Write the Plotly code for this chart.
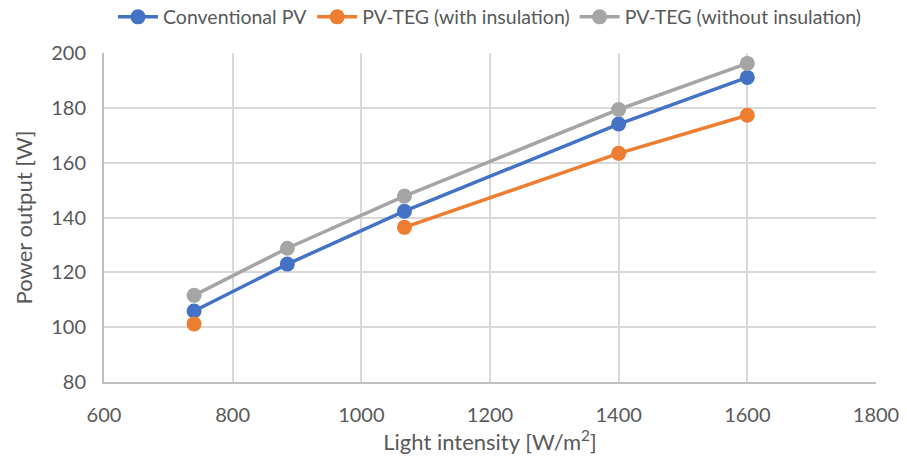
import plotly.graph_objects as go

# Light intensity levels [W/m^2]
intensity = [740, 885, 1067, 1400, 1600]

# Power output [W] for each configuration
conventional_pv = [105.9, 123.0, 142.3, 174.1, 191.1]
pvteg_insulated = [101.2, None, 136.4, 163.4, 177.3]
pvteg_uninsulated = [111.6, 128.8, 147.8, 179.4, 196.2]

series = [
    ("Conventional PV", conventional_pv, "#4472C4"),
    ("PV-TEG (with insulation)", pvteg_insulated, "#ED7D31"),
    ("PV-TEG (without insulation)", pvteg_uninsulated, "#A5A5A5"),
]

font_family = "Lato, Open Sans, sans-serif"
text_color = "#595959"

fig = go.Figure()
for name, values, color in series:
    fig.add_trace(go.Scatter(
        x=intensity, y=values, name=name, mode="lines+markers",
        line=dict(color=color, width=3.5),
        marker=dict(color=color, size=15),
        connectgaps=False,
    ))

fig.update_layout(
    width=907, height=464,
    margin=dict(l=104, r=31, t=53, b=82, autoexpand=False),
    paper_bgcolor="white", plot_bgcolor="white",
    font=dict(family=font_family, color=text_color, size=20),
    legend=dict(orientation="h", x=0.5, xanchor="center",
                yref="container", y=0.963, yanchor="middle",
                font=dict(size=19.5, color=text_color), itemwidth=40,
                traceorder="normal"),
    xaxis=dict(
        range=[600, 1800], dtick=200, tick0=600,
        showgrid=True, gridcolor="#D9D9D9", gridwidth=2,
        showline=True, linecolor="#BFBFBF", linewidth=2,
        zeroline=False, ticks="", ticklen=0, ticklabelstandoff=14,
        tickfont=dict(size=20, color=text_color),
        title=dict(text="Light intensity [W/m<sup>2</sup>]", font=dict(size=22, color=text_color), standoff=9),
    ),
    yaxis=dict(
        range=[80, 200], dtick=20, tick0=80,
        showgrid=True, gridcolor="#D9D9D9", gridwidth=2,
        showline=True, linecolor="#BFBFBF", linewidth=2,
        zeroline=False, ticks="", ticklen=0, ticklabelstandoff=12,
        tickfont=dict(size=20, color=text_color),
        title=dict(text="Power output [W]", font=dict(size=22, color=text_color), standoff=12),
    ),
)

fig.write_html("out.html")
